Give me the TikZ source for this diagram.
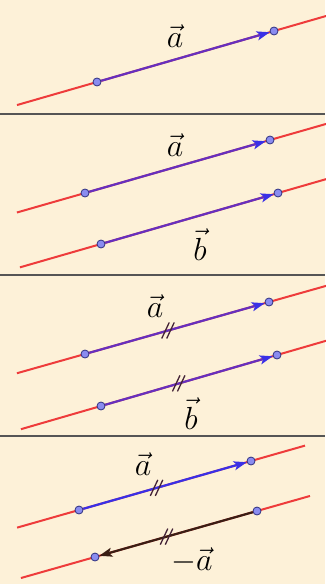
\documentclass[tikz,border=0pt]{standalone}
\usepackage{tikz}
\usetikzlibrary{arrows.meta,calc}
\usepackage{amsmath}
\definecolor{cream}{HTML}{FDF1D8}
\definecolor{carrred}{HTML}{EE3B3B}
\definecolor{vpurple}{HTML}{6630BE}
\definecolor{vblue}{HTML}{3A30E6}
\definecolor{vdark}{HTML}{3A1E14}
\definecolor{ptfill}{HTML}{8A8CF0}
\definecolor{ptline}{HTML}{2E3080}
\definecolor{sepgray}{HTML}{555555}
\pgfdeclarelayer{back}
\pgfsetlayers{back,main}
\newcommand{\biglab}[1]{\scalebox{1.29}{$#1$}}

\begin{document}
\begin{tikzpicture}[x=1bp,y=-1bp,
  endpt/.style={draw=ptline,fill=ptfill,circle,inner sep=0pt,minimum size=8bp,line width=0.8bp},
  carrier/.style={draw=carrred,line width=2bp},
  vecP/.style={draw=vpurple,line width=2.2bp,-{Stealth[length=13bp,width=9bp,inset=3bp,color=vblue]}},
  vecB/.style={draw=vblue,line width=2.2bp,-{Stealth[length=13bp,width=9bp,inset=3bp]}},
  vecD/.style={draw=vdark,line width=2.2bp,-{Stealth[length=13bp,width=9bp,inset=3bp]}},
  lbl/.style={anchor=base,font=\Huge,inner sep=0pt},
  sep/.style={draw=sepgray,line width=1.5bp},
  twotick/.pic={\draw[line width=1.3bp,draw=vdark!80!vpurple,arrows=-] (-6.5,8) -- (1,-8) (-1.5,8) -- (6,-8);}
]
  \useasboundingbox (0,0) rectangle (325,584);

  % End points
  \node[endpt] (a1s) at (97,82) {};
  \node[endpt] (a1e) at (274,31) {};
  \node[endpt] (a2s) at (85,193) {};
  \node[endpt] (a2e) at (270,140) {};
  \node[endpt] (b2s) at (101,244) {};
  \node[endpt] (b2e) at (278,193) {};
  \node[endpt] (a3s) at (85,354) {};
  \node[endpt] (a3e) at (269,302) {};
  \node[endpt] (b3s) at (101,406) {};
  \node[endpt] (b3e) at (277,355) {};
  \node[endpt] (a4s) at (79,510) {};
  \node[endpt] (a4e) at (251,461) {};
  \node[endpt] (n4s) at (257,511) {};
  \node[endpt] (n4e) at (95,557) {};

  % Background and carrier lines
  \begin{pgfonlayer}{back}
    \fill[cream] (0,0) rectangle (325,584);
    \coordinate (w1) at ($(a1s)!-0.452!(a1e)$);
    \coordinate (e1) at ($(a1s)!1.305!(a1e)$);
    \coordinate (w2) at ($(a2s)!-0.368!(a2e)$);
    \coordinate (e2) at ($(a2s)!1.314!(a2e)$);
    \coordinate (w3) at ($(b2s)!-0.458!(b2e)$);
    \coordinate (e3) at ($(b2s)!1.282!(b2e)$);
    \coordinate (w4) at ($(a3s)!-0.37!(a3e)$);
    \coordinate (e4) at ($(a3s)!1.32!(a3e)$);
    \coordinate (w5) at ($(b3s)!-0.455!(b3e)$);
    \coordinate (e5) at ($(b3s)!1.29!(b3e)$);
    \coordinate (w6) at ($(a4s)!-0.36!(a4e)$);
    \coordinate (e6) at ($(a4s)!1.314!(a4e)$);
    \coordinate (w7) at ($(n4e)!-0.457!(n4s)$);
    \coordinate (e7) at ($(n4e)!1.327!(n4s)$);
    \foreach \i in {1,...,7}
      \draw[carrier] (w\i) -- (e\i);
  \end{pgfonlayer}

  % Panel separators
  \coordinate (s1w) at (0,114);
  \coordinate (s1e) at (325,114);
  \coordinate (s2w) at (0,275);
  \coordinate (s2e) at (325,275);
  \coordinate (s3w) at (0,436);
  \coordinate (s3e) at (325,436);
  \draw[sep] (s1w) -- (s1e);
  \draw[sep] (s2w) -- (s2e);
  \draw[sep] (s3w) -- (s3e);

  % Vectors
  \draw[vecP] (a1s) -- (a1e);
  \draw[vecP] (a2s) -- (a2e);
  \draw[vecP] (b2s) -- (b2e);
  \draw[vecP] (a3s) -- (a3e);
  \draw[vecP] (b3s) -- (b3e);
  \draw[vecB] (a4s) -- (a4e);
  \draw[vecD] (n4s) -- (n4e);

  % Equal length marks
  \path (a3s) -- pic[pos=0.45] {twotick} (a3e);
  \path (b3s) -- pic[pos=0.44] {twotick} (b3e);
  \path (a4s) -- pic[pos=0.45] {twotick} (a4e);
  \path (n4s) -- pic[pos=0.56] {twotick} (n4e);

  % Labels
  \node[lbl] (la1) at (175,48) {\biglab{\vec{a}}};
  \node[lbl] (la2) at (175,157) {\biglab{\vec{a}}};
  \node[lbl] (lb2) at (200,260) {\biglab{\vec{b}}};
  \node[lbl] (la3) at (155,317) {\biglab{\vec{a}}};
  \node[lbl] (lb3) at (191,429) {\biglab{\vec{b}}};
  \node[lbl] (la4) at (143,475) {\biglab{\vec{a}}};
  \node[lbl] (lm4) at (192,570) {\biglab{-\vec{a}}};
\end{tikzpicture}
\end{document}
